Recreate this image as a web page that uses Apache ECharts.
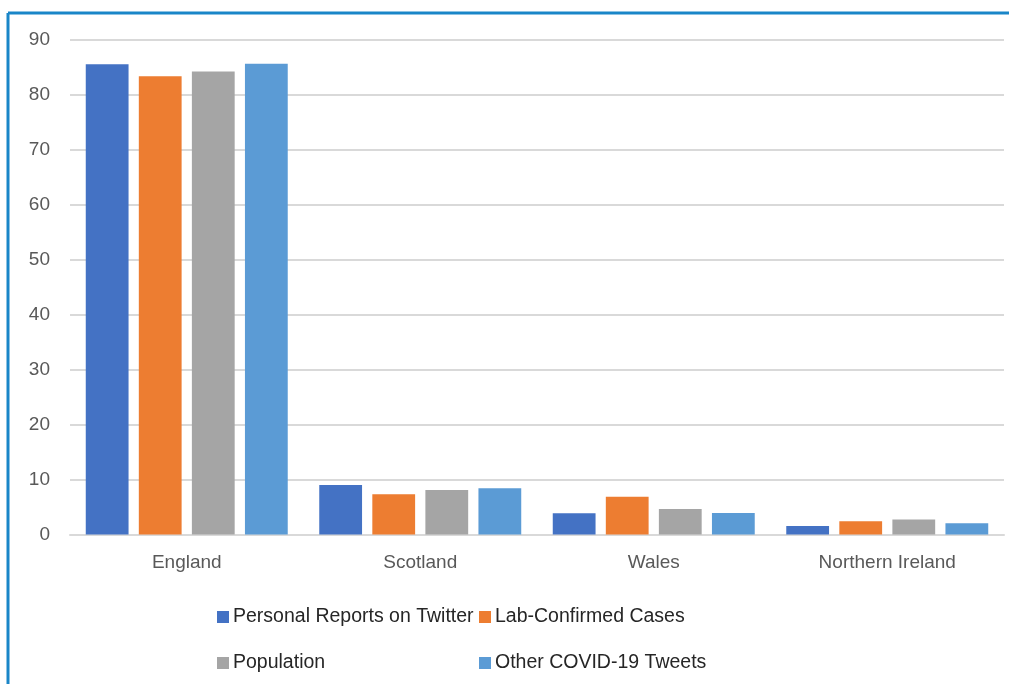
<!DOCTYPE html>
<html>
<head>
<meta charset="utf-8">
<script src="https://cdn.jsdelivr.net/npm/echarts@6/dist/echarts.min.js"></script>
<style>
html,body{margin:0;padding:0;background:#fff;}
#chart{width:1009px;height:684px;}
</style>
</head>
<body>
<div id="chart"></div>
<script>
const categories = ['England', 'Scotland', 'Wales', 'Northern Ireland'];
const personalReports = [85.5, 9.0, 3.85, 1.55];
const labConfirmed = [83.3, 7.3, 6.85, 2.4];
const population = [84.2, 8.1, 4.65, 2.75];
const otherTweets = [85.6, 8.4, 3.9, 2.05];
const yTicks = { min: 0, max: 90, interval: 10 };

const chart = echarts.init(document.getElementById('chart'));
const font = '"Liberation Sans", "DejaVu Sans", sans-serif';
function bar(name, data, color) {
  return { name, type: 'bar', data, itemStyle: { color }, barGap: '24%', barCategoryGap: '13.5%' };
}
const legendText = { fontFamily: font, fontSize: 19.5, color: '#262626', padding: [0, 0, 0, -1] };
chart.setOption({
  animation: false,
  backgroundColor: '#fff',
  grid: { left: 70, right: 5, top: 39.5, bottom: 149.5 },
  graphic: [
    { type: 'line', shape: { x1: 8, y1: 13, x2: 1009, y2: 13 }, style: { stroke: '#1a86c8', lineWidth: 3 } },
    { type: 'line', shape: { x1: 8, y1: 13, x2: 8, y2: 684 }, style: { stroke: '#1a86c8', lineWidth: 3 } }
  ],
  legend: [
    { data: ['Personal Reports on Twitter', 'Population'], orient: 'vertical', left: 212, top: 602, itemGap: 26,
      itemWidth: 12, itemHeight: 12, icon: 'rect', textStyle: legendText },
    { data: ['Lab-Confirmed Cases', 'Other COVID-19 Tweets'], orient: 'vertical', left: 474, top: 602, itemGap: 26,
      itemWidth: 12, itemHeight: 12, icon: 'rect', textStyle: legendText }
  ],
  xAxis: {
    type: 'category', data: categories,
    axisLine: { lineStyle: { color: '#d9d9d9', width: 2 } },
    axisTick: { show: false },
    axisLabel: { fontFamily: font, fontSize: 19, color: '#595959', margin: 19 }
  },
  yAxis: {
    type: 'value', min: yTicks.min, max: yTicks.max, interval: yTicks.interval,
    axisLine: { show: false }, axisTick: { show: false },
    splitLine: { lineStyle: { color: '#d9d9d9', width: 2 } },
    axisLabel: { fontFamily: font, fontSize: 19, color: '#595959', margin: 20 }
  },
  series: [
    bar('Personal Reports on Twitter', personalReports, '#4472c4'),
    bar('Lab-Confirmed Cases', labConfirmed, '#ed7d31'),
    bar('Population', population, '#a5a5a5'),
    bar('Other COVID-19 Tweets', otherTweets, '#5b9bd5')
  ]
});
</script>
</body>
</html>
